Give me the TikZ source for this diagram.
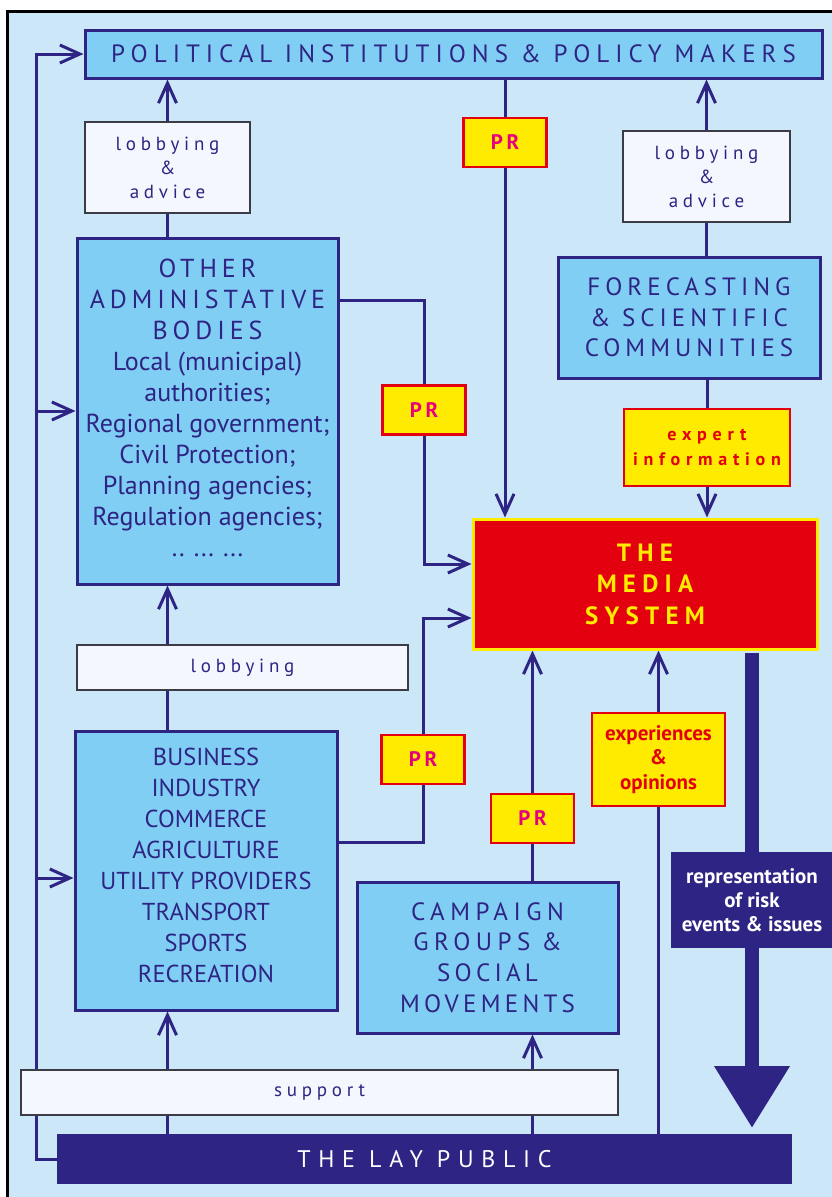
\documentclass[tikz,border=0pt]{standalone}
\usepackage{fontspec}
\setmainfont{PT Sans}
\usetikzlibrary{arrows.meta}
\definecolor{bgblue}{HTML}{CCE7F8}
\definecolor{boxblue}{HTML}{80CEF4}
\definecolor{dblue}{HTML}{2E2483}
\definecolor{myyellow}{HTML}{FFEB00}
\definecolor{myred}{HTML}{E3000F}
\definecolor{mymag}{HTML}{E6007E}
\definecolor{wbox}{HTML}{F4F8FE}
\definecolor{wborder}{HTML}{3C3C46}
\pgfdeclarelayer{back}
\pgfdeclarelayer{bg}
\pgfsetlayers{back,bg,main}
\newcommand\lsp[1]{\addfontfeature{LetterSpace=#1}}
\tikzset{
  bluebox/.style={draw=dblue, line width=3pt, fill=boxblue, text=dblue, inner sep=0pt, align=center, font=\fontsize{26}{31}\selectfont},
  whitebox/.style={draw=wborder, line width=1.8pt, fill=wbox, text=dblue, inner sep=0pt, align=center, font=\fontsize{19}{24}\selectfont\lsp{25}},
  yelbox/.style={draw=myred, line width=2.5pt, fill=myyellow, inner sep=0pt, align=center},
  prbox/.style={yelbox, minimum width=83pt, minimum height=49pt, text=mymag, font=\fontsize{21}{24}\selectfont\bfseries\lsp{18}},
  conn/.style={draw=dblue, line width=3pt},
  arr/.style={conn, -{Straight Barb[length=20pt,width=18pt]}},
}
\begin{document}
\begin{tikzpicture}[x=1pt,y=-1pt]
\useasboundingbox (0,0) rectangle (832,1197);
\begin{pgfonlayer}{back}
\draw[line width=3pt, fill=bgblue] (7,11) rectangle (870,1240);
\end{pgfonlayer}

% nodes
\node[bluebox, minimum width=737pt, minimum height=48pt, font=\fontsize{25}{30}\selectfont\lsp{24}] (pol) at (453.5,54) {POLITICAL INSTITUTIONS \& POLICY MAKERS};
\node[whitebox, minimum width=165pt, minimum height=91pt] (lobA) at (167.5,167.5) {lobbying\\\&\\advice};
\node[prbox] (prTop) at (505,142.5) {PR};
\node[whitebox, minimum width=167pt, minimum height=91pt] (lobB) at (706.5,176.5) {lobbying\\\&\\advice};
\node[bluebox, minimum width=261pt, minimum height=346pt, text depth=6pt] (other) at (207.5,411)
  {{\lsp{19}OTHER}\\{\lsp{19}ADMINISTATIVE}\\{\lsp{19}BODIES}\\Local (municipal)\\authorities;\\Regional government;\\Civil Protection;\\Planning agencies;\\Regulation agencies;\\.. ... ...};
\node[bluebox, minimum width=262pt, minimum height=121pt, font=\fontsize{25}{30.5}\selectfont\lsp{20}] (fore) at (689,317.5) {FORECASTING\\\& SCIENTIFIC\\COMMUNITIES};
\node[prbox] (prOther) at (424,410) {PR};
\node[yelbox, minimum width=166pt, minimum height=77pt, text=myred, font=\fontsize{18}{25}\selectfont\bfseries\lsp{32}] (expert) at (707,447.5) {expert\\information};
\node[draw=myyellow, line width=3pt, fill=myred, text=myyellow, minimum width=344pt, minimum height=130pt, inner sep=0pt, align=center, font=\fontsize{25}{31.5}\selectfont\bfseries\lsp{25}] (media) at (645,584) {THE\\MEDIA\\SYSTEM};
\node[whitebox, minimum width=331pt, minimum height=45pt] (lobC) at (242.5,667.5) {lobbying};
\node[bluebox, minimum width=262pt, minimum height=279pt, text depth=11pt, font=\fontsize{24.5}{31}\selectfont] (business) at (206,870.5)
  {BUSINESS\\INDUSTRY\\COMMERCE\\AGRICULTURE\\UTILITY PROVIDERS\\TRANSPORT\\SPORTS\\RECREATION};
\node[prbox] (prBus) at (423,759.5) {PR};
\node[prbox] (prCamp) at (532.5,818.5) {PR};
\node[yelbox, minimum width=133pt, minimum height=93pt, text=myred, font=\fontsize{21}{24.5}\selectfont\bfseries] (exper) at (658.5,759.5) {experiences\\\&\\opinions};
\node[bluebox, minimum width=261pt, minimum height=151pt, font=\fontsize{25}{30.7}\selectfont\lsp{17}] (camp) at (487.5,957.5) {{\lsp{22}CAMPAIGN}\\{\lsp{22}GROUPS} \&\\SOCIAL\\MOVEMENTS};
\node[whitebox, minimum width=597pt, minimum height=45pt] (support) at (319.5,1092.5) {support};
\node[fill=dblue, text=white, minimum width=735pt, minimum height=50pt, inner sep=0pt, font=\fontsize{24}{29}\selectfont\lsp{32}] (lay) at (424.5,1159) {THE LAY PUBLIC};
\coordinate (thickEnd) at (752,1128);
\node[fill=dblue, text=white, minimum width=162pt, minimum height=96pt, inner sep=0pt, align=center, text depth=-8pt, font=\fontsize{21}{24}\selectfont\bfseries] (repr) at (752,900) {representation\\of risk\\events \& issues};

\coordinate (fbTop) at (36,54);
\coordinate (fbBot) at (36,1159);

\begin{pgfonlayer}{bg}
% left feedback line
\draw[arr] (lay.west) -- (fbBot) -- (fbTop) -- (pol.west);
\draw[arr] (fbTop |- other.west) -- (other.west);
\draw[arr] (fbTop |- business.west) ++(0,7.5) -- ([yshift=-7.5pt]business.west);
% lobbying & advice left
\draw[arr] (lobA.north) -- (lobA.north |- pol.south);
\draw[conn] (lobA.south) -- (lobA.south |- other.north);
% PR top
\draw[conn] (prTop.north |- pol.south) -- (prTop.north);
\draw[arr] (prTop.south) -- (prTop.south |- media.north);
% lobbying & advice right
\draw[arr] (lobB.north) -- (lobB.north |- pol.south);
\draw[conn] (lobB.south) -- (lobB.south |- fore.north);
% forecasting -> expert -> media
\draw[conn] (expert.north |- fore.south) -- (expert.north);
\draw[arr] (expert.south) -- (expert.south |- media.north);
% other -> PR -> media
\draw[conn] ([yshift=111pt]other.east) -| (prOther.north);
\draw[arr] (prOther.south) |- ([yshift=20pt]media.west);
% lobbying middle
\draw[arr] (lobA.south |- lobC.north) -- (lobA.south |- other.south);
\draw[conn] (lobA.south |- business.north) -- (lobA.south |- lobC.south);
% business -> PR -> media
\draw[conn] ([yshift=28.5pt]business.east) -| (prBus.south);
\draw[arr] (prBus.north) |- ([yshift=-34pt]media.west);
% campaign -> PR -> media
\draw[conn] (prCamp.south |- camp.north) -- (prCamp.south);
\draw[arr] (prCamp.north) -- (prCamp.north |- media.south);
% experiences
\draw[conn] (exper.south |- lay.north) -- (exper.south);
\draw[arr] (exper.north) -- (exper.north |- media.south);
% support
\draw[arr] (lobA.south |- lay.north) -- (lobA.south |- business.south);
\draw[arr] (prCamp.south |- lay.north) -- (prCamp.south |- camp.south);
% thick arrow
\draw[draw=dblue, line width=14pt, -{Triangle[length=62pt,width=72pt]}] ([yshift=-2pt]media.south -| thickEnd) -- (thickEnd);
\end{pgfonlayer}
\end{tikzpicture}
\end{document}
